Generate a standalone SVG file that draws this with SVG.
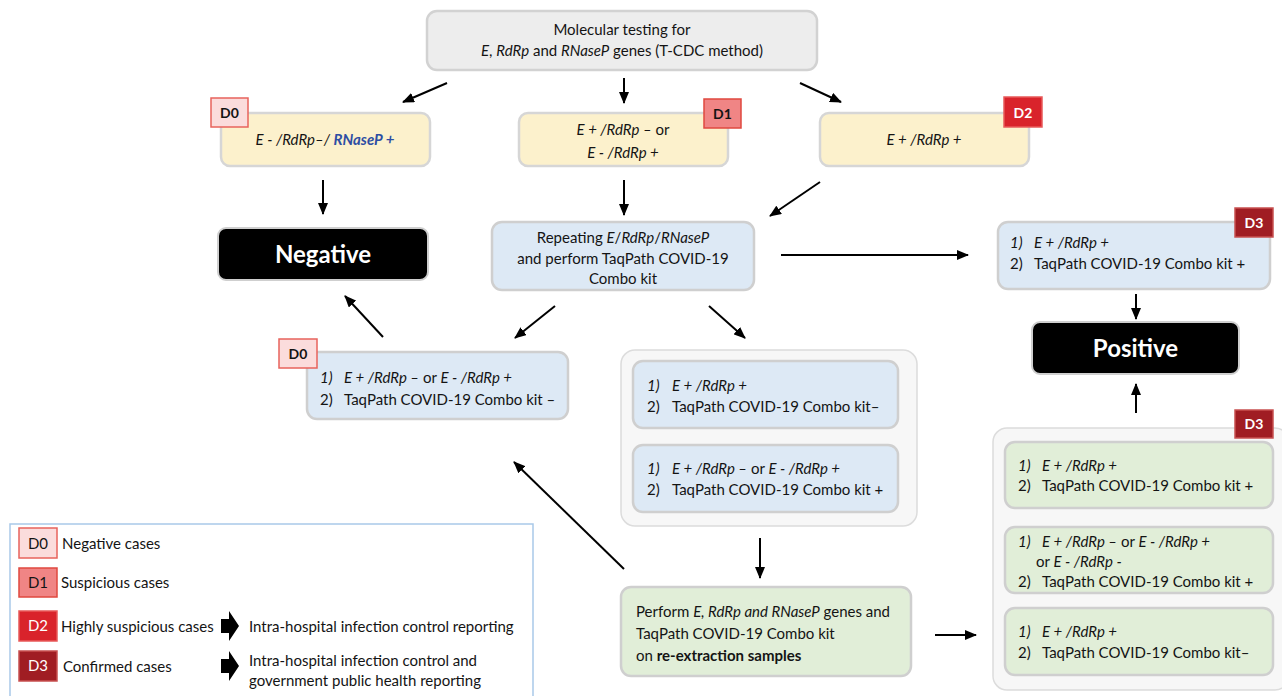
<svg xmlns="http://www.w3.org/2000/svg" width="1282" height="696" viewBox="0 0 1282 696">
<defs>
<marker id="ah" viewBox="0 0 12 10" refX="11" refY="5" markerWidth="12" markerHeight="10" markerUnits="userSpaceOnUse" orient="auto">
<path d="M0,0 L12,5 L0,10 Z" fill="#000"/>
</marker>
</defs>
<style>
text{font-family:Lato,"Open Sans","Liberation Sans",sans-serif;font-size:15px;fill:#141414}
.i{font-style:italic}
.b{font-weight:bold}
.c{text-anchor:middle}
.grey{fill:#ededed;stroke:#d2d2d2;stroke-width:2.5}
.yel{fill:#fcf1cc;stroke:#d6d6d6;stroke-width:2.5}
.blu{fill:#dde9f5;stroke:#cfcfcf;stroke-width:2.5}
.grn{fill:#e1eed8;stroke:#cfcfcf;stroke-width:2.5}
.cont{fill:#f7f7f7;stroke:#dcdcdc;stroke-width:1.5}
.blk{fill:#000;stroke:#cfcfcf;stroke-width:2}
.big{font-size:24px;font-weight:bold;fill:#fff;text-anchor:middle}
.d0{fill:#fbdcdc;stroke:#e8635c;stroke-width:1.5}
.d1{fill:#f08585;stroke:#e0483f;stroke-width:1.5}
.d2{fill:#d9232b;stroke:#e85a5a;stroke-width:1.5}
.d3{fill:#a01d23;stroke:#c85050;stroke-width:1.5}
.bt{font-size:14px;font-weight:bold;text-anchor:middle}
.w{fill:#fff}
.lt{font-size:15px;text-anchor:middle}
.leg{font-size:15px}
.ln{stroke:#000;stroke-width:2;fill:none;marker-end:url(#ah)}
.rp{fill:#2e4ea3;font-weight:bold}
</style>

<g id="top">
<rect class="grey" x="427" y="11" width="390" height="59" rx="10"/>
<text class="c" x="622" y="35">Molecular testing for</text>
<text class="c" x="622" y="56"><tspan class="i">E</tspan>, <tspan class="i">RdRp</tspan> and <tspan class="i">RNaseP</tspan> genes (T-CDC method)</text>
</g>

<g id="y0">
<rect class="yel" x="221" y="113" width="209" height="53" rx="9"/>
<text class="c i" x="325" y="145">E - /RdRp–/ <tspan class="rp">RNaseP +</tspan></text>
<rect class="d0" x="211" y="98" width="37" height="29"/>
<text class="bt" x="229.5" y="118">D0</text>
</g>

<g id="y1">
<rect class="yel" x="519" y="113" width="209" height="53" rx="9"/>
<text class="c" x="623" y="135"><tspan class="i">E + /RdRp –</tspan> or</text>
<text class="c i" x="623" y="158">E - /RdRp +</text>
<rect class="d1" x="704" y="99" width="37" height="29"/>
<text class="bt" x="722.5" y="119">D1</text>
</g>

<g id="y2">
<rect class="yel" x="820" y="113" width="209" height="53" rx="9"/>
<text class="c i" x="924" y="145">E + /RdRp +</text>
<rect class="d2" x="1004" y="97" width="38" height="30"/>
<text class="bt w" x="1023" y="118">D2</text>
</g>

<g id="negative">
<rect class="blk" x="218" y="228" width="210" height="52" rx="8"/>
<text class="big" x="323" y="263">Negative</text>
</g>

<g id="repeat">
<rect class="blu" x="492" y="222" width="262" height="68" rx="10"/>
<text class="c" x="623" y="243">Repeating <tspan class="i">E</tspan>/<tspan class="i">RdRp</tspan>/<tspan class="i">RNaseP</tspan></text>
<text class="c" x="623" y="264">and perform TaqPath COVID-19</text>
<text class="c" x="623" y="284">Combo kit</text>
</g>

<g id="d3top">
<rect class="blu" x="998" y="222" width="272" height="67" rx="10"/>
<text class="i" x="1010" y="248">1)</text>
<text class="i" x="1034" y="248">E + /RdRp +</text>
<text x="1010" y="269">2)</text>
<text x="1034" y="269">TaqPath COVID-19 Combo kit +</text>
<rect class="d3" x="1235" y="208" width="38" height="29"/>
<text class="bt w" x="1254" y="228">D3</text>
</g>

<g id="positive">
<rect class="blk" x="1032" y="322" width="207" height="52" rx="8"/>
<text class="big" x="1135.5" y="357">Positive</text>
</g>

<g id="neg2">
<rect class="blu" x="307" y="352" width="261" height="67" rx="10"/>
<text class="i" x="320" y="383">1)</text>
<text x="344" y="383"><tspan class="i">E + /RdRp –</tspan> or <tspan class="i">E - /RdRp +</tspan></text>
<text x="320" y="405">2)</text>
<text x="344" y="405">TaqPath COVID-19 Combo kit –</text>
<rect class="d0" x="279" y="339" width="38" height="29"/>
<text class="bt" x="298" y="359">D0</text>
</g>

<g id="mid">
<rect class="cont" x="621" y="350" width="296" height="176" rx="14"/>
<rect class="blu" x="633" y="361" width="265" height="67" rx="10"/>
<text class="i" x="647" y="391">1)</text>
<text class="i" x="672" y="391">E + /RdRp +</text>
<text x="647" y="412">2)</text>
<text x="672" y="412">TaqPath COVID-19 Combo kit–</text>
<rect class="blu" x="633" y="445" width="265" height="67" rx="10"/>
<text class="i" x="647" y="474">1)</text>
<text x="672" y="474"><tspan class="i">E + /RdRp –</tspan> or <tspan class="i">E - /RdRp +</tspan></text>
<text x="647" y="495">2)</text>
<text x="672" y="495">TaqPath COVID-19 Combo kit +</text>
</g>

<g id="reext">
<rect class="grn" x="621" y="587" width="290" height="89" rx="10"/>
<text x="636" y="617">Perform <tspan class="i">E, RdRp and RNaseP</tspan> genes and</text>
<text x="636" y="639">TaqPath COVID-19 Combo kit</text>
<text x="636" y="661">on <tspan class="b">re-extraction samples</tspan></text>
</g>

<g id="right">
<rect class="cont" x="993" y="428" width="296" height="262" rx="14"/>
<rect class="grn" x="1005" y="442" width="268" height="66" rx="10"/>
<text class="i" x="1018" y="471">1)</text>
<text class="i" x="1042" y="471">E + /RdRp +</text>
<text x="1018" y="491">2)</text>
<text x="1042" y="491">TaqPath COVID-19 Combo kit +</text>
<rect class="grn" x="1005" y="527" width="268" height="66" rx="10"/>
<text class="i" x="1018" y="547">1)</text>
<text x="1042" y="547"><tspan class="i">E + /RdRp –</tspan> or <tspan class="i">E - /RdRp +</tspan></text>
<text x="1036" y="567">or <tspan class="i">E - /RdRp -</tspan></text>
<text x="1018" y="587">2)</text>
<text x="1042" y="587">TaqPath COVID-19 Combo kit +</text>
<rect class="grn" x="1005" y="608" width="268" height="67" rx="10"/>
<text class="i" x="1018" y="637">1)</text>
<text class="i" x="1042" y="637">E + /RdRp +</text>
<text x="1018" y="658">2)</text>
<text x="1042" y="658">TaqPath COVID-19 Combo kit–</text>
<rect class="d3" x="1235" y="410" width="38" height="28"/>
<text class="bt w" x="1254" y="429">D3</text>
</g>

<g id="legend">
<rect x="10" y="524" width="523" height="180" fill="#fff" stroke="#a9c9e9" stroke-width="1.5"/>
<rect class="d0" x="19" y="528" width="38" height="30"/>
<text class="lt" x="38" y="549">D0</text>
<text class="leg" x="62" y="549">Negative cases</text>
<rect class="d1" x="19" y="568" width="38" height="29"/>
<text class="lt" x="38" y="588">D1</text>
<text class="leg" x="61" y="588">Suspicious cases</text>
<rect class="d2" x="19" y="611" width="38" height="30"/>
<text class="lt w" x="38" y="631">D2</text>
<text class="leg" x="61" y="632">Highly suspicious cases</text>
<polygon points="221,619 229,619 229,611 239,626 229,641 229,633 221,633" fill="#000"/>
<text class="leg" x="249" y="632">Intra-hospital infection control reporting</text>
<rect class="d3" x="19" y="651" width="38" height="30"/>
<text class="lt w" x="38" y="671">D3</text>
<text class="leg" x="63" y="672">Confirmed cases</text>
<polygon points="221,659 229,659 229,651 239,666 229,681 229,673 221,673" fill="#000"/>
<text class="leg" x="249" y="666">Intra-hospital infection control and</text>
<text class="leg" x="249" y="686">government public health reporting</text>
</g>

<g id="connectors">
<line class="ln" x1="447" y1="83" x2="403" y2="102"/>
<line class="ln" x1="624" y1="78" x2="624" y2="103"/>
<line class="ln" x1="800" y1="83" x2="841" y2="102"/>
<line class="ln" x1="323" y1="180" x2="323" y2="214"/>
<line class="ln" x1="624" y1="180" x2="624" y2="215"/>
<line class="ln" x1="820" y1="182" x2="770" y2="216"/>
<line class="ln" x1="781" y1="255" x2="968" y2="255"/>
<line class="ln" x1="1136" y1="294" x2="1136" y2="319"/>
<line class="ln" x1="1136" y1="413" x2="1136" y2="384"/>
<line class="ln" x1="555" y1="306" x2="515" y2="338"/>
<line class="ln" x1="709" y1="306" x2="745" y2="338"/>
<line class="ln" x1="383" y1="337" x2="345" y2="296"/>
<line class="ln" x1="760" y1="538" x2="760" y2="578"/>
<line class="ln" x1="624" y1="569" x2="514" y2="462"/>
<line class="ln" x1="935" y1="635" x2="976" y2="635"/>
</g>
</svg>
